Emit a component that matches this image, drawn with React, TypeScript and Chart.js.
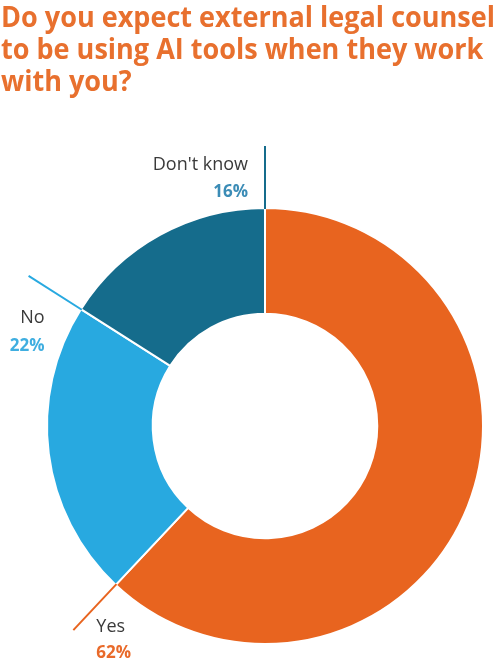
import React, { useEffect, useRef } from 'react';
import { Chart, registerables } from 'chart.js';

Chart.register(...registerables);

// ---- data ----
const TITLE_LINES = [
  'Do you expect external legal counsel',
  'to be using AI tools when they work',
  'with you?',
];
const CATEGORIES = ['Yes', 'No', "Don't know"];
const VALUES = [62, 22, 16];
const PERCENT_LABELS = ['62%', '22%', '16%'];

// ---- style ----
const SLICE_COLORS = ['#E8641F', '#28A9E0', '#156C8C'];
const PERCENT_COLORS = ['#E96A2A', '#3FAEE0', '#3B8CB6'];
const TITLE_COLOR = '#E8702E';
const LABEL_COLOR = '#3A3A3A';
const LEADER_EXT = 62;
const LABEL_PLACEMENT = [
  { align: 'left', dx: 23, dy1: -3, dy2: 23 },
  { align: 'right', dx: 16, dy1: 42, dy2: 70 },
  { align: 'right', dx: -17, dy1: 19, dy2: 46 },
];

const titlePlugin = {
  id: 'customTitle',
  afterDraw(chart: any) {
    const ctx = chart.ctx as CanvasRenderingContext2D;
    ctx.save();
    ctx.font = 'bold 29px "Open Sans", "Noto Sans", sans-serif';
    ctx.fillStyle = TITLE_COLOR;
    ctx.textBaseline = 'alphabetic';
    ctx.textAlign = 'left';
    const w = ctx.measureText(TITLE_LINES[0]).width;
    const sx = 494 / w;
    TITLE_LINES.forEach((line, i) => {
      ctx.save();
      ctx.translate(1, 27 + i * 32);
      ctx.scale(sx, 1);
      ctx.fillText(line, 0, 0);
      ctx.restore();
    });
    ctx.restore();
  },
};

const calloutPlugin = {
  id: 'callouts',
  afterDatasetsDraw(chart: any) {
    const ctx = chart.ctx as CanvasRenderingContext2D;
    const meta = chart.getDatasetMeta(0);
    meta.data.forEach((arc: any, i: number) => {
      const { x, y, endAngle, outerRadius } = arc.getProps(
        ['x', 'y', 'endAngle', 'outerRadius'],
        true
      );
      const c = Math.cos(endAngle);
      const s = Math.sin(endAngle);
      const x0 = x + c * (outerRadius - 1);
      const y0 = y + s * (outerRadius - 1);
      const x1 = x + c * (outerRadius + LEADER_EXT);
      const y1 = y + s * (outerRadius + LEADER_EXT);
      ctx.save();
      ctx.strokeStyle = SLICE_COLORS[i];
      ctx.lineWidth = 2;
      ctx.beginPath();
      ctx.moveTo(x0, y0);
      ctx.lineTo(x1, y1);
      ctx.stroke();

      const p = LABEL_PLACEMENT[i];
      ctx.textAlign = p.align as CanvasTextAlign;
      ctx.textBaseline = 'middle';
      ctx.font = '18px "Open Sans", "Noto Sans", sans-serif';
      ctx.fillStyle = LABEL_COLOR;
      ctx.fillText(CATEGORIES[i], x1 + p.dx, y1 + p.dy1);
      ctx.font = 'bold 17px "Open Sans", "Noto Sans", sans-serif';
      ctx.fillStyle = PERCENT_COLORS[i];
      ctx.fillText(PERCENT_LABELS[i], x1 + p.dx, y1 + p.dy2);
      ctx.restore();
    });
  },
};

export default function App() {
  const ref = useRef<HTMLCanvasElement | null>(null);
  useEffect(() => {
    if (!ref.current) return;
    const chart = new Chart(ref.current, {
      type: 'doughnut',
      data: {
        labels: CATEGORIES,
        datasets: [
          {
            data: VALUES,
            backgroundColor: SLICE_COLORS,
            borderColor: '#FFFFFF',
            borderWidth: 2,
            hoverOffset: 0,
          },
        ],
      },
      options: {
        responsive: false,
        devicePixelRatio: 1,
        animation: false,
        cutout: '51.5%',
        layout: { padding: { left: 46, right: 12, top: 207, bottom: 16 } },
        plugins: {
          legend: { display: false },
          tooltip: { enabled: false },
          title: { display: false },
        },
      },
      plugins: [titlePlugin, calloutPlugin],
    });
    return () => chart.destroy();
  }, []);
  return (
    <div style={{ position: 'fixed', left: 0, top: 0, width: 496, height: 661, background: '#fff' }}>
      <canvas ref={ref} width={496} height={661} />
    </div>
  );
}
